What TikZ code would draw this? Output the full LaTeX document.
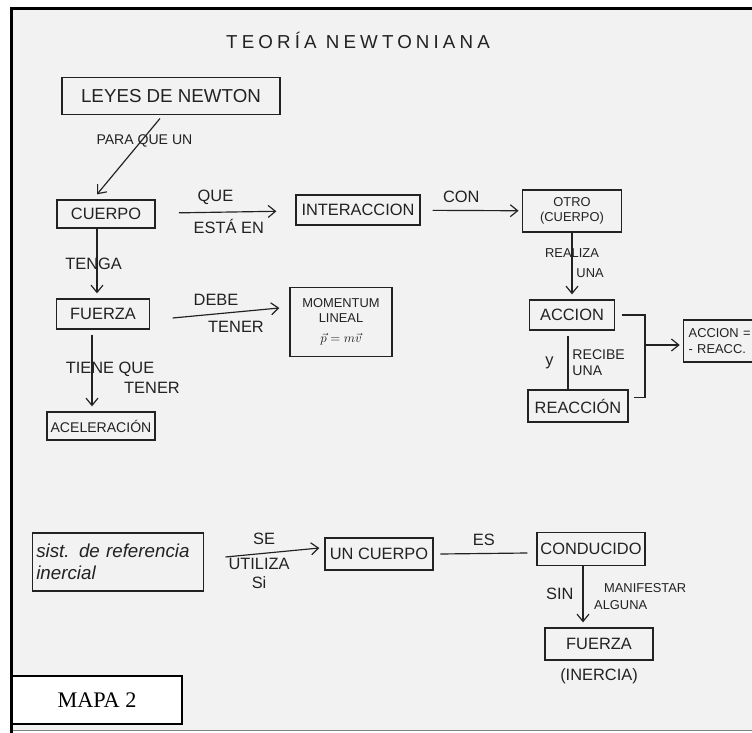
\documentclass[tikz,border=0pt]{standalone}
\usepackage{fontspec}
\setmainfont{Liberation Serif}
\setsansfont{Liberation Sans}
\newfontfamily\handwide[LetterSpace=22]{Liberation Sans}
\usetikzlibrary{arrows.meta,positioning}
\definecolor{paper}{HTML}{F2F2F2}
\definecolor{ink}{HTML}{222222}
\tikzset{
  hw/.style={font=\sffamily\fontsize{14}{16}\selectfont,text=ink},
  hwsmall/.style={font=\sffamily\fontsize{11}{13}\selectfont,text=ink},
  concept/.style={draw=ink,line width=1.1pt,hw,inner sep=3pt,align=center},
  arr/.style={-{Straight Barb[length=2.2mm,width=3.6mm]},line width=1pt,ink},
  lnk/.style={line width=1pt,ink},
}
\begin{document}
\begin{tikzpicture}[x=0.3mm,y=-0.3mm]
  \useasboundingbox (0,0) rectangle (752,733);
  \clip (0,0) rectangle (752,733);
  \fill[paper] (11,9) rectangle (752,730);
  \draw[gray,line width=0.6pt] (11,730.5) -- (752,730.5);
  \draw[black,line width=0.9mm] (11.5,733) -- (11.5,8.5) -- (752,8.5);

  \node[hw,font=\handwide\fontsize{16}{18}\selectfont] (titulo) at (358,40) {TEORÍA NEWTONIANA};

  \node[concept,font=\sffamily\fontsize{16}{18}\selectfont,minimum width=65.4mm,minimum height=11.1mm] (leyes) at (171,96) {LEYES DE NEWTON};
  \node[concept,minimum width=29.4mm,minimum height=8.4mm] (cuerpo) at (106,214) {CUERPO};
  \node[concept,minimum width=37.2mm,minimum height=9mm] (inter) at (358,210) {INTERACCION};
  \node[concept,hwsmall,minimum width=29.7mm,minimum height=12.6mm] (otro) at (572,211) {OTRO\\(CUERPO)};
  \node[concept,minimum width=25.5mm,minimum height=9mm] (accion) at (572,315) {ACCION};
  \node[concept,minimum width=30mm,minimum height=9.6mm] (reaccion) at (578,406) {REACCIÓN};
  \node[concept,hwsmall,anchor=west,align=left,text width=27mm,inner sep=1.5mm,minimum height=12.6mm] (igual) at (683,341) {ACCION =\\- REACC.};
  \node[concept,font=\sffamily\fontsize{11}{13}\selectfont,minimum width=30.6mm,minimum height=20.7mm] (momentum) at (341,322) {MOMENTUM\\LINEAL\\[4pt]$\vec{p}=m\vec{v}$};
  \node[concept,minimum width=27.9mm,minimum height=9mm] (fuerza) at (103,314) {FUERZA};
  \node[concept,font=\sffamily\fontsize{12}{14}\selectfont,minimum width=29.4mm,minimum height=8.4mm] (acel) at (101,426) {ACELERACIÓN};

  \draw[arr] ([xshift=-3.3mm,yshift=-1mm]leyes.south) -- node[font=\sffamily\fontsize{12}{14}\selectfont,text=ink,pos=0.3,xshift=1mm]{PARA QUE UN} ([xshift=-2.7mm,yshift=1.5mm]cuerpo.north);
  \draw[arr,shorten <=7mm,shorten >=5.7mm] (cuerpo) -- node[hw,above=1mm,xshift=-3mm]{QUE} node[hw,below=0.7mm,xshift=1mm]{ESTÁ EN} (inter);
  \draw[arr,shorten <=3.6mm,shorten >=1mm] (inter) -- node[hw,above=1mm,xshift=-3mm]{CON} (otro);
  \draw[arr,shorten >=1.5mm] (otro) -- node[hwsmall,pos=0.3]{REALIZA} node[hwsmall,pos=0.6,right]{UNA} (accion);
  \draw[lnk] ([xshift=-1.2mm,yshift=-1.5mm]accion.south) -- ([xshift=-1.2mm]accion.south |- reaccion.north)
    node[hw,midway,left=3mm]{y} node[font=\sffamily\fontsize{12}{14}\selectfont,text=ink,midway,right,align=left]{RECIBE\\UNA};
  \coordinate (junta) at (645,345);
  \draw[lnk] ([xshift=2mm]accion.east) -| (junta) |- ([xshift=1.5mm,yshift=2.5mm]reaccion.east);
  \draw[arr,shorten >=1mm] (junta) -- (junta -| igual.west);
  \draw[arr,shorten >=1.5mm] ([xshift=-2.7mm]cuerpo.south) -- ([xshift=-2.7mm]cuerpo.south |- fuerza.north)
    node[hw,midway,xshift=-1mm]{TENGA};
  \draw[arr] ([xshift=6.75mm,yshift=-1.2mm]fuerza.east) -- node[hw,above=1mm,xshift=-3mm]{DEBE} node[hw,below=1mm,xshift=3mm]{TENER} ([xshift=-3mm,yshift=4.2mm]momentum.west);
  \draw[arr,shorten >=1.5mm] ([xshift=-3.3mm,yshift=-1.5mm]fuerza.south) -- ([xshift=-3.3mm]fuerza.south |- acel.north)
    node[hw,pos=0.45,xshift=5.4mm]{TIENE QUE} node[hw,pos=0.7,xshift=18mm]{TENER};

  \node[concept,font=\sffamily\itshape\fontsize{16}{19}\selectfont,align=left,text width=49mm,minimum height=17.4mm] (sist) at (118,562) {sist. de referencia\\inercial};
  \node[concept,minimum width=32.4mm,minimum height=9.6mm] (uncuerpo) at (379,554) {UN CUERPO};
  \node[concept,minimum width=32.4mm,minimum height=9.9mm] (conducido) at (591,549) {CONDUCIDO};
  \node[concept,minimum width=32.4mm,minimum height=9.6mm] (fuerzab) at (599,644) {FUERZA};
  \node[hw,below=1.2mm of fuerzab] (inercia) {(INERCIA)};

  \draw[arr] ([xshift=6.5mm,yshift=1.5mm]sist.east) -- node[hw,above=1mm,xshift=-2.5mm]{SE} node[hw,below=0.5mm,xshift=-4mm,align=center]{UTILIZA\\Si} ([xshift=-1.5mm,yshift=1.8mm]uncuerpo.west);
  \draw[lnk] ([xshift=2mm]uncuerpo.east) -- node[hw,above=1mm]{ES} ([xshift=-2.7mm,yshift=-1.2mm]conducido.west);
  \draw[arr,shorten >=1.5mm] ([xshift=-2.4mm]conducido.south) -- ([xshift=-2.4mm]conducido.south |- fuerzab.north)
    node[hw,pos=0.45,left=1.5mm]{SIN} node[hwsmall,pos=0.35,right=5mm]{MANIFESTAR} node[hwsmall,pos=0.63,right=2mm]{ALGUNA};

  \node[draw=black,fill=white,line width=0.6mm,minimum width=50.7mm,minimum height=14.4mm,font=\rmfamily\fontsize{19}{21}\selectfont] (mapa) at (97,700) {MAPA 2};
\end{tikzpicture}
\end{document}
